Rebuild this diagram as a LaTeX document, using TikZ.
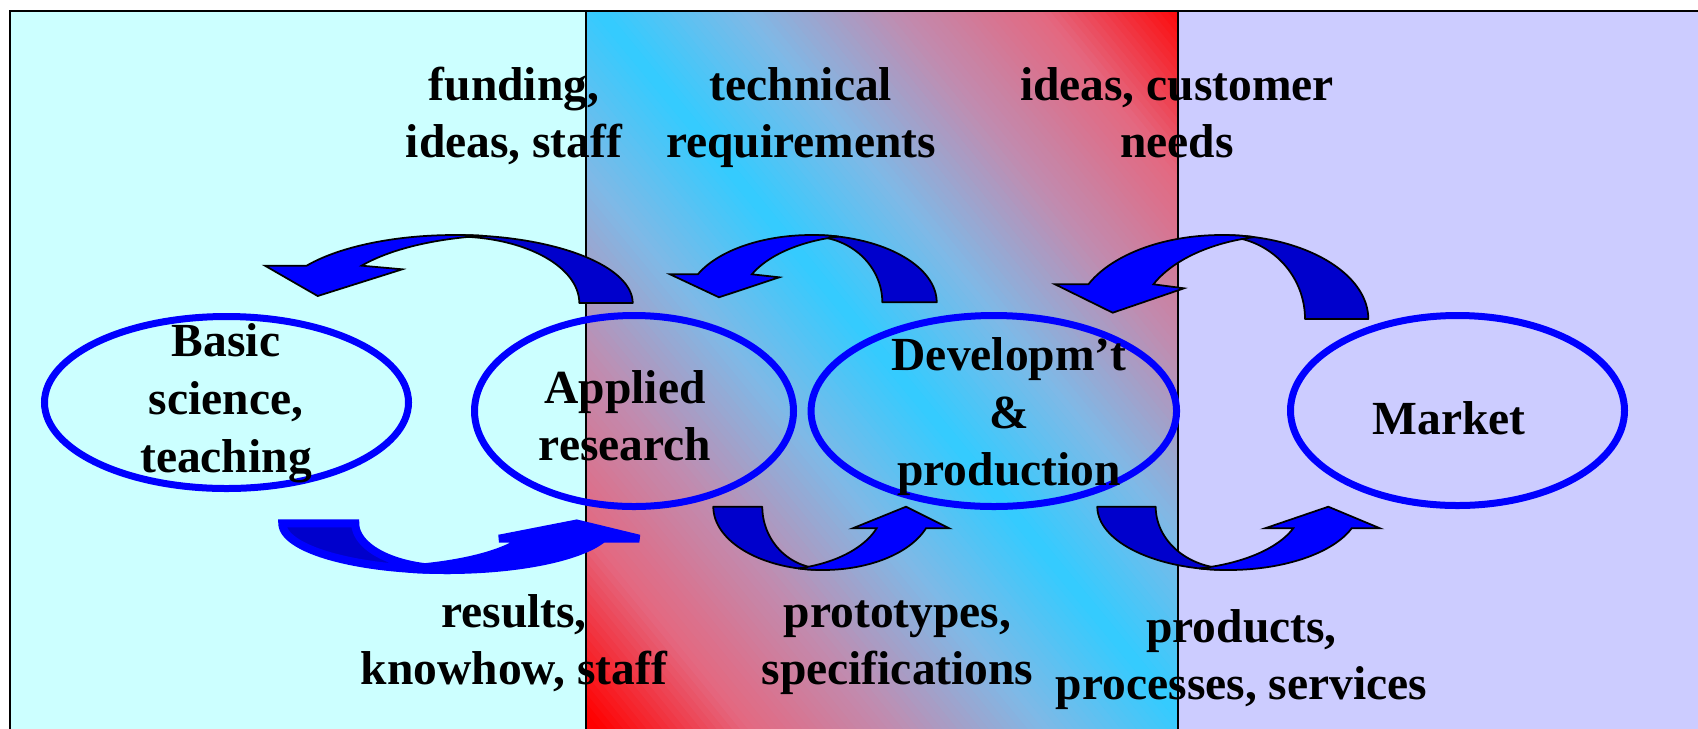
\documentclass[tikz,border=0pt]{standalone}
\usepackage{fontspec}
\setmainfont{Liberation Serif}
\usetikzlibrary{shapes.geometric}

\definecolor{leftbg}{HTML}{CCFFFF}
\definecolor{rightbg}{HTML}{CCCCFF}
\definecolor{cyanc}{HTML}{33CCFF}
\definecolor{gA}{HTML}{80B8E6}
\definecolor{gB}{HTML}{C08CB0}
\definecolor{gC}{HTML}{E46880}
\definecolor{redc}{HTML}{FF0000}
\definecolor{arrdark}{HTML}{0000CC}
\definecolor{arrbright}{HTML}{0000FF}
\definecolor{ellblue}{HTML}{0000FF}

% curved arrow pointing down-left (foot on the right)
\newcommand{\ArrTop}[5]{%
  \pgfmathsetmacro\Aend{360-acos(\Ass/(2*\Ara))}%
  \pgfmathsetmacro\Bst{180+acos(\Ass/(2*\Ara))}%
  \filldraw[#1] plot[domain=360:270] ({\Acx+\Ara*cos(\t)},{\Ayo+\Ahh*sin(\t)})
     -- plot[domain=270:360] ({\Acx+(\Ara-\Aww)*cos(\t)},{\Ayo+(\Ahh-1.5)*sin(\t)}) -- cycle;
  \filldraw[#2] plot[domain=\Ats:\Aend] ({\Acx+\Ara*cos(\t)},{\Ayo+\Ahh*sin(\t)})
     -- plot[domain=\Bst:\Ats] ({\Acx+\Ass+\Ara*cos(\t)},{\Ayo+\Ahh*sin(\t)})
     -- #5 -- #4 -- #3 -- cycle;
}
% curved arrow pointing up-right (foot on the left)
\newcommand{\ArrBot}[5]{%
  \pgfmathsetmacro\Aend{180-acos(\Ass/(2*\Ara))}%
  \pgfmathsetmacro\Bst{acos(\Ass/(2*\Ara))}%
  \filldraw[#1] plot[domain=180:90] ({\Acx+\Ara*cos(\t)},{\Ayo+\Ahh*sin(\t)})
     -- plot[domain=90:180] ({\Acx+(\Ara-\Aww)*cos(\t)},{\Ayo+(\Ahh-1.5)*sin(\t)}) -- cycle;
  \filldraw[#2] plot[domain=\Ats:\Aend] ({\Acx+\Ara*cos(\t)},{\Ayo+\Ahh*sin(\t)})
     -- plot[domain=\Bst:\Ats] ({\Acx-\Ass+\Ara*cos(\t)},{\Ayo+\Ahh*sin(\t)})
     -- #5 -- #4 -- #3 -- cycle;
}

\tikzset{
  frame/.style={draw=black, line width=0.7pt},
  darkarr/.style={fill=arrdark, draw=black, line width=0.7pt, line join=round},
  brightarr/.style={fill=arrbright, draw=black, line width=0.7pt, line join=miter},
  darkthick/.style={fill=arrdark, draw=arrbright, line width=3.2pt, line join=miter, miter limit=2},
  brightthick/.style={fill=arrbright, draw=arrbright, line width=3.2pt, line join=miter, miter limit=2},
  ell/.style={ellipse, draw=ellblue, line width=2.8pt, inner sep=0pt},
  lbl/.style={font=\fontsize{19pt}{23.08pt}\selectfont\bfseries, align=center, inner sep=0pt, text=black},
  every plot/.style={variable=\t, samples=48}
}

\begin{document}
\begin{tikzpicture}[x=0.4pt, y=-0.4pt]
\useasboundingbox (0,0) rectangle (1698,728);
\clip (0,0) rectangle (1698,728);
\fill[white] (0,0) rectangle (1698,728);

% panels
\fill[leftbg] (10,11) rectangle (586,740);
\fill[rightbg] (1178,11) rectangle (1710,740);
\begin{scope}
  \clip (586,11) rectangle (1178,740);
  \begin{scope}[rotate around={39.5:(895,370)}]
    \foreach \i in {0,...,159} {
      \pgfmathsetmacro\xa{415+\i*6}
      \pgfmathsetmacro\xb{\xa+7}
      \pgfmathsetmacro\uu{min(abs(\xa+3-895)/456,1)*4}
      \pgfmathtruncatemacro\kk{min(floor(\uu),3)}
      \pgfmathsetmacro\ff{(\uu-\kk)*100}
      \ifcase\kk \colorlet{sc}{gA!\ff!cyanc}\or \colorlet{sc}{gB!\ff!gA}\or \colorlet{sc}{gC!\ff!gB}\or \colorlet{sc}{redc!\ff!gC}\fi
      \fill[sc] (\xa,-500) rectangle (\xb,1300);
    }
  \end{scope}
\end{scope}
\draw[frame] (10,740) -- (10,11) -- (1710,11);
\draw[frame] (586,11) -- (586,740);
\draw[frame] (1178,11) -- (1178,740);

% top arrows
\def\Acx{455.1}\def\Ayo{303}\def\Ara{177.6}\def\Ahh{68}\def\Aww{53.4}\def\Ass{55}\def\Ats{213.3}
\ArrTop{darkarr}{brightarr}{(265,265.7)}{(317.7,296)}{(402.3,269.3)}
\def\Acx{811.6}\def\Ayo{302.3}\def\Ara{125.1}\def\Ahh{67.3}\def\Aww{54.4}\def\Ass{54}\def\Ats{204.6}
\ArrTop{darkarr}{brightarr}{(670,274.3)}{(719,297.3)}{(779.3,277.3)}
\def\Acx{1221.8}\def\Ayo{319}\def\Ara{146.5}\def\Ahh{84}\def\Aww{63.3}\def\Ass{65}\def\Ats{204.4}
\ArrTop{darkarr}{brightarr}{(1055,284.3)}{(1112.7,312.7)}{(1184,288.3)}

% bottom arrows
\def\Acx{447.1}\def\Ayo{523.3}\def\Ara{164.8}\def\Ahh{46.7}\def\Aww{73}\def\Ass{78.7}\def\Ats{19.3}
\ArrBot{darkthick}{brightthick}{(639.3,538.7)}{(576.7,523.5)}{(499,538.7)}
\def\Acx{822.9}\def\Ayo{506.7}\def\Ara{109.6}\def\Ahh{63.3}\def\Aww{49}\def\Ass{49.3}\def\Ats{19.95}
\ArrBot{darkarr}{brightarr}{(949.3,528.3)}{(906,506.7)}{(852.7,528.3)}
\def\Acx{1228.4}\def\Ayo{506.7}\def\Ara{131.1}\def\Ahh{63.3}\def\Aww{58.4}\def\Ass{58.4}\def\Ats{19.95}
\ArrBot{darkarr}{brightarr}{(1380,528.3)}{(1328.3,506.7)}{(1265,528.3)}

% ellipses
\node[ell, minimum width=145.6pt, minimum height=68.8pt] (basic) at (226.5,402.5) {};
\node[ell, minimum width=127.6pt, minimum height=76.4pt] (applied) at (634,411) {};
\node[ell, minimum width=146.2pt, minimum height=76.4pt] (devel) at (993.8,411) {};
\node[ell, minimum width=133.6pt, minimum height=76pt] (market) at (1457.5,410.5) {};

% labels
\node[lbl] (basicT) at (226,403) {\strut Basic\\\strut science,\\\strut teaching};
\node[lbl] (appliedT) at (625,420.5) {\strut Applied\\\strut research};
\node[lbl] (develT) at (1009,416.5) {\strut Developm’t\\\strut \&\\\strut production};
\node[lbl] (marketT) at (1449,423.2) {\strut Market};

\node[lbl] (fundT) at (514,117.5) {\strut funding,\\\strut ideas, staff};
\node[lbl] (techT) at (801,117.5) {\strut technical\\\strut requirements};
\node[lbl] (needT) at (1177,117.5) {\strut ideas, customer\\\strut needs};

\node[lbl] (resT) at (514,644.5) {\strut results,\\\strut knowhow, staff};
\node[lbl] (protoT) at (897.5,644.5) {\strut prototypes,\\\strut specifications};
\node[lbl] (prodT) at (1241.5,659.5) {\strut products,\\\strut processes, services};
\end{tikzpicture}
\end{document}
